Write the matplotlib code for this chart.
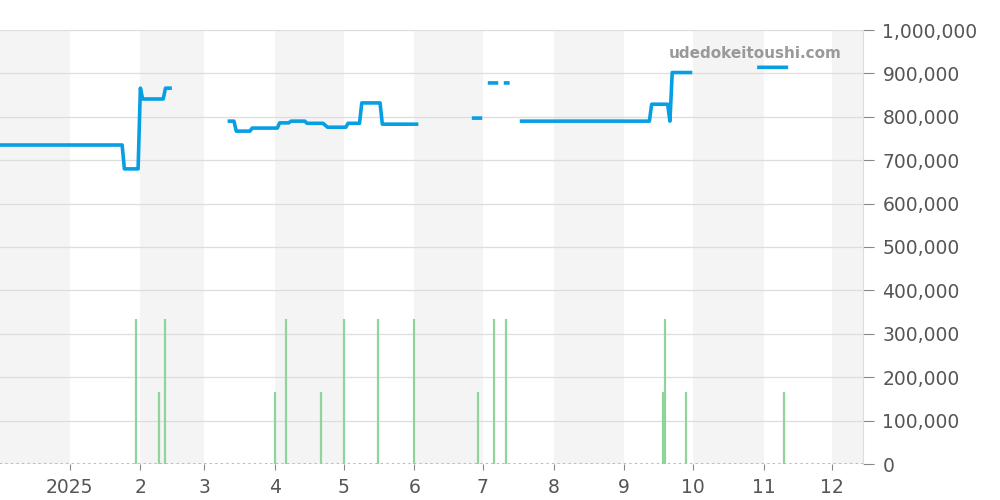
import numpy as np
import pandas as pd
import matplotlib
matplotlib.use("Agg")
import matplotlib.pyplot as plt
import matplotlib.dates as mdates
from matplotlib.ticker import FuncFormatter, FixedLocator

# price series (NaN = gap)
price_dates = ["2024-12-01", "2025-01-24", "2025-01-25", "2025-01-31", "2025-02-01", "2025-02-02",
               "2025-02-11", "2025-02-12", "2025-02-14", "2025-02-15",
               "2025-03-12", "2025-03-14", "2025-03-15", "2025-03-21", "2025-03-22", "2025-04-02",
               "2025-04-03", "2025-04-07", "2025-04-08", "2025-04-14", "2025-04-15", "2025-04-22",
               "2025-04-24", "2025-05-02", "2025-05-03", "2025-05-08", "2025-05-09", "2025-05-17",
               "2025-05-18", "2025-06-02", "2025-06-03",
               "2025-06-27", "2025-06-30", "2025-07-01",
               "2025-07-04", "2025-07-07", "2025-07-08",
               "2025-07-11", "2025-07-12", "2025-07-13",
               "2025-07-18", "2025-09-12", "2025-09-13", "2025-09-20", "2025-09-21", "2025-09-22",
               "2025-09-30", "2025-10-01",
               "2025-10-30", "2025-11-11"]
price_vals = [735000, 735000, 680000, 680000, 866000, 841000,
              841000, 866000, 866000, np.nan,
              790000, 790000, 767000, 767000, 774000, 774000,
              786000, 786000, 790000, 790000, 785000, 785000,
              776000, 776000, 785000, 785000, 832000, 832000,
              783000, 783000, np.nan,
              797000, 797000, np.nan,
              878000, 878000, np.nan,
              878000, 878000, np.nan,
              790000, 790000, 829000, 829000, 790000, 902000,
              902000, np.nan,
              914000, 914000]

# volume bars
vol_dates = ["2025-01-30", "2025-02-09", "2025-02-12", "2025-04-01", "2025-04-06", "2025-04-21",
             "2025-05-01", "2025-05-16", "2025-06-01", "2025-06-29", "2025-07-06", "2025-07-11",
             "2025-09-18", "2025-09-19", "2025-09-28", "2025-11-10"]
vol_vals = [333000, 166000, 333000, 166000, 333000, 166000,
            333000, 333000, 333000, 166000, 333000, 333000,
            166000, 333000, 166000, 166000]

x_start, x_end = pd.Timestamp("2024-12-01 12:00"), pd.Timestamp("2025-12-14 14:00")
tick_months = pd.date_range("2025-01-01", "2025-12-01", freq="MS")

fig = plt.figure(figsize=(10, 5), dpi=100)
ax = fig.add_axes([0.0, 0.072, 0.863, 0.868])

# alternating month bands
months = pd.date_range("2024-12-01", "2026-01-01", freq="MS")
for i in range(len(months) - 1):
    if i % 2 == 0:
        ax.axvspan(months[i], months[i + 1], color="#f4f4f4", lw=0, zorder=0)

ax.hlines(0, x_start, x_end, colors="#8fd49a", linestyles=":", lw=1.5, zorder=2)
ax.vlines(pd.to_datetime(vol_dates), 0, vol_vals, colors="#8fd49a", lw=1.6, zorder=2)
ax.plot(pd.to_datetime(price_dates), price_vals, color="#079fe3", lw=2.6, zorder=3)

ax.set_xlim(x_start, x_end)
ax.set_ylim(0, 1000000)
ax.set_yticks(np.arange(0, 1000001, 100000))
ax.yaxis.set_major_formatter(FuncFormatter(lambda v, p: f"{int(v):,}"))
ax.yaxis.tick_right()
ax.grid(axis="y", color="#dddddd", lw=0.9, zorder=1)
ax.set_axisbelow(True)

ax.set_xticks(tick_months)
ax.set_xticklabels([str(d.year) if d.month == 1 else str(d.month) for d in tick_months])

ax.tick_params(axis="y", length=8, color="#888888", labelcolor="#555555", labelsize=13.5, pad=6)
ax.tick_params(axis="x", length=4, color="#888888", labelcolor="#555555", labelsize=13.5, pad=6)
for s in ["top", "left", "bottom"]:
    ax.spines[s].set_visible(False)
ax.spines["right"].set_color("#dddddd")

ax.text(0.875, 0.945, "udedokeitoushi.com", transform=ax.transAxes, ha="center", va="center",
        fontsize=11, fontweight="bold", color="#999999")

fig.savefig("out.png", dpi=100)
